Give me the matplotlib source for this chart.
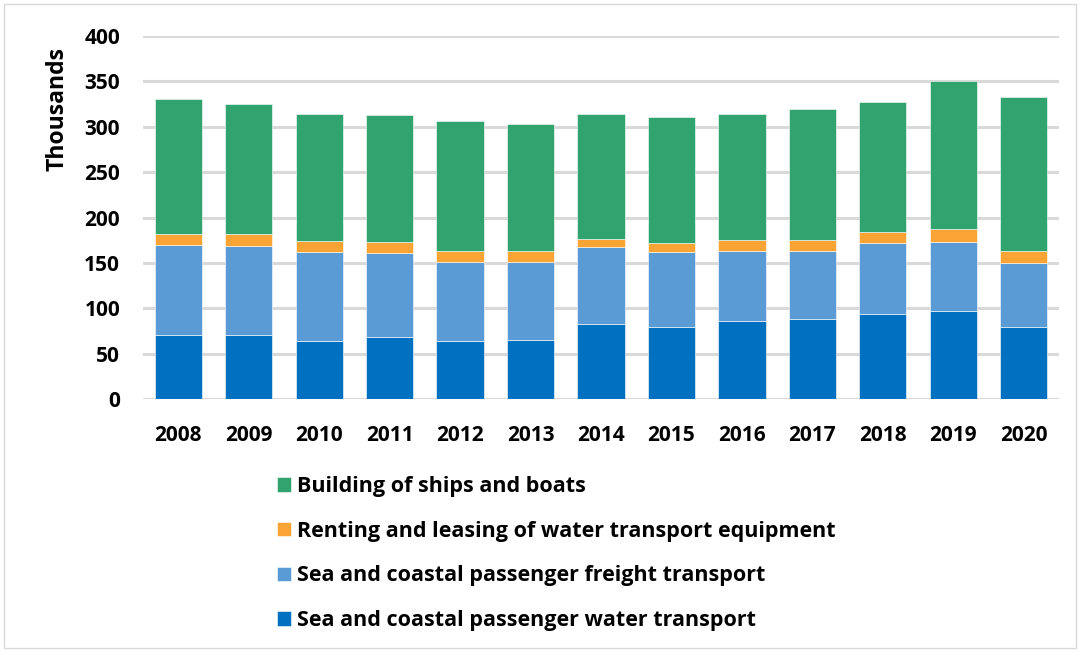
import numpy as np
import matplotlib
matplotlib.use("Agg")
import matplotlib.pyplot as plt
from matplotlib.patches import Rectangle

plt.rcParams["font.family"] = ["Open Sans", "DejaVu Sans"]

years = ["2008", "2009", "2010", "2011", "2012", "2013", "2014",
         "2015", "2016", "2017", "2018", "2019", "2020"]
# thousands (bottom -> top)
water_transport = [70.5, 70.5, 64, 68, 64, 65, 82.5, 79, 85.5, 88, 93.5, 97.5, 79]
freight_transport = [99, 98, 98, 92.5, 87.5, 86.5, 84.5, 83, 78, 75.5, 78, 75.5, 71]
renting_leasing = [12, 13, 12, 12, 12, 12, 9, 9.5, 11.5, 11.5, 12, 14.5, 13.5]
building_ships = [149, 144, 140.5, 140.5, 142.5, 139.5, 138, 139.5, 138.5, 145, 143.5, 162.5, 169]

series = [
    ("Sea and coastal passenger water transport", water_transport, "#0070C0"),
    ("Sea and coastal passenger freight transport", freight_transport, "#5B9BD5"),
    ("Renting and leasing of water transport equipment", renting_leasing, "#F9A435"),
    ("Building of ships and boats", building_ships, "#31A36F"),
]

fig = plt.figure(figsize=(10.8, 6.51), dpi=100)
ax = fig.add_axes([143 / 1080, 1 - 399 / 651, 916 / 1080, 363 / 651])

x = np.arange(len(years))
bottom = np.zeros(len(years))
handles = []
for name, vals, col in series:
    b = ax.bar(x, vals, bottom=bottom, width=0.67, color=col,
               edgecolor="white", linewidth=0.4, label=name, zorder=3)
    handles.append(b)
    bottom += np.array(vals)

ax.set_xlim(-0.5, len(years) - 0.5)
ax.set_ylim(0, 400)
ax.set_yticks(np.arange(0, 401, 50))
ax.set_xticks(x)
ax.set_xticklabels(years)
ax.grid(axis="y", color="#D9D9D9", lw=2.2, zorder=0)
for s in ax.spines.values():
    s.set_visible(False)
ax.tick_params(length=0, labelsize=15)
ax.tick_params(axis="x", pad=19)
ax.tick_params(axis="y", pad=16.5)
for lab in ax.get_xticklabels() + ax.get_yticklabels():
    lab.set_fontweight("bold")
ax.set_ylabel("Thousands", fontsize=16.5, fontweight="bold")
ax.yaxis.set_label_coords(-0.080, 0.80)

leg = fig.legend(handles[::-1], [s[0] for s in series][::-1],
                 loc="upper left", bbox_to_anchor=(277 / 1080, 1 - 476 / 651),
                 frameon=False, handlelength=0.65, handleheight=0.65,
                 handletextpad=0.3, labelspacing=1.1, borderpad=0, borderaxespad=0,
                 prop={"weight": "bold", "size": 15.5})

# chart border
fig.patches.append(Rectangle((0.004, 0.004), 0.992, 0.99, transform=fig.transFigure,
                             fill=False, edgecolor="#D9D9D9", lw=1))

fig.savefig("out.png", dpi=100)
